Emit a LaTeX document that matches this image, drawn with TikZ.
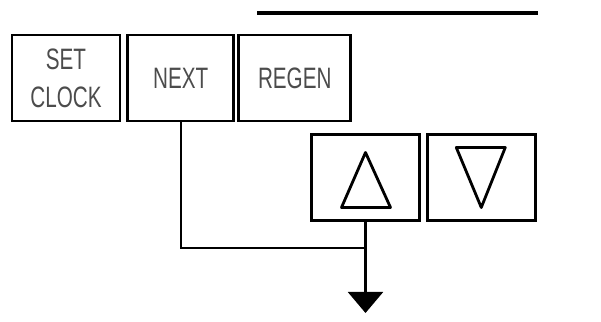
\documentclass[tikz,border=0pt]{standalone}
\usepackage{fontspec}
\setmainfont[FakeStretch=0.7]{Liberation Sans}
\usetikzlibrary{arrows.meta}
\usetikzlibrary{positioning}
\tikzset{key/.style = {draw, line width=2.1pt, minimum width=2.7cm, minimum height=2.15cm,
    inner sep=0, align=center, text=black!70, font=\fontsize{21}{27}\selectfont}}
\tikzset{tri/.style = {line width=2pt, line join=round}}
\tikzset{wire/.style = {line width=1.5pt}}

\begin{document}
\begin{tikzpicture}[x=0.025cm, y=-0.025cm]
    \useasboundingbox (0, 0) rectangle (601, 322);

    \draw[line width=3pt] (257, 13) -- (538, 13);

    \node[key] (setclock) at (66, 78) {SET\\CLOCK};
    \node[key, right=0.12cm of setclock, minimum width=2.65cm] (next) {NEXT};
    \node[key, right=0.05cm of next, minimum width=2.8cm] (regen) {REGEN};

    \node[key] (up) at (365.5, 177.5) {};
    \node[key, right=0.12cm of up] (down) {};

    \draw[tri, shift={(up.center)}] (0, -25) -- (-24, 30) -- (25, 30) -- cycle;
    \draw[tri, shift={(down.center)}] (-25, -30) -- (24, -30) -- (0, 30) -- cycle;

    \coordinate (join) at (up.south |- 0, 248);
    \coordinate (tip) at (up.south |- 0, 313);
    \draw[wire] (next.south) |- (join);
    \draw[wire, -{Triangle[width=0.875cm, length=0.525cm]}] (up.south) -- (tip);
  \end{tikzpicture}
\end{document}
